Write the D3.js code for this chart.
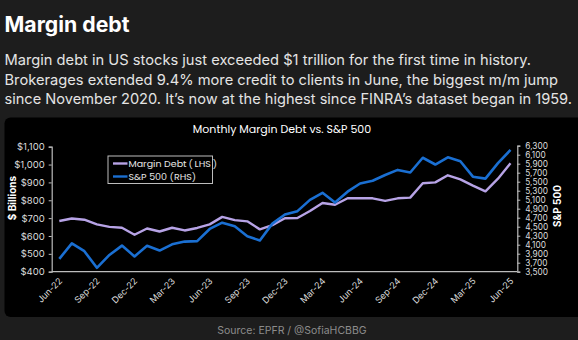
<!DOCTYPE html>
<html>
<head>
<meta charset="utf-8">
<script src="https://cdn.jsdelivr.net/npm/d3@7/dist/d3.min.js"></script>
<style>
  html, body { margin: 0; padding: 0; background: #1d1d1d; }
  svg { display: block; }
</style>
</head>
<body>
<div id="chart"></div>
<script>
// monthly observations, Jun-22 .. Jun-25
const months = [
  "Jun-22", "Jul-22", "Aug-22", "Sep-22", "Oct-22", "Nov-22", "Dec-22",
  "Jan-23", "Feb-23", "Mar-23", "Apr-23", "May-23", "Jun-23", "Jul-23",
  "Aug-23", "Sep-23", "Oct-23", "Nov-23", "Dec-23", "Jan-24", "Feb-24",
  "Mar-24", "Apr-24", "May-24", "Jun-24", "Jul-24", "Aug-24", "Sep-24",
  "Oct-24", "Nov-24", "Dec-24", "Jan-25", "Feb-25", "Mar-25", "Apr-25",
  "May-25", "Jun-25"
];

// margin debt, $ billions (left axis)
const marginDebt = [
  684, 698, 691, 665, 651, 646, 607,
  642, 625, 646, 631, 645, 665, 707,
  689, 682, 637, 661, 699, 701, 740,
  785, 775, 811, 811, 811, 797, 811,
  815, 895, 900, 940, 917, 882, 850,
  921, 1008
];

// S&P 500 month-end close (right axis)
const spx = [
  3785, 4130, 3955, 3586, 3872, 4080, 3840,
  4077, 3970, 4109, 4169, 4180, 4450, 4589,
  4508, 4288, 4194, 4568, 4770, 4846, 5096,
  5254, 5036, 5278, 5460, 5522, 5648, 5762,
  5705, 6032, 5882, 6041, 5955, 5612, 5569,
  5912, 6205
];

const leftTicks = [400, 500, 600, 700, 800, 900, 1000, 1100];
const rightTicks = d3.range(3500, 6301, 200);

const bodyLines = [
  "Margin debt in US stocks just exceeded $1 trillion for the first time in history.",
  "Brokerages extended 9.4% more credit to clients in June, the biggest m/m jump",
  "since November 2020. It\u2019s now at the highest since FINRA\u2019s dataset began in 1959."
];

const settings = {
  width: 578,
  height: 340,
  plot: { left: 51.7, right: 517.3, top: 146, bottom: 271.7 },
  x0: 59.3,
  x1: 510.5,
  debt_color: "#b7a3e6",
  spx_color: "#1a6fd2",
  axis_color: "#bcbcbc",
  text_color: "#dcdcdc",
};

const svg = d3.select("#chart").append("svg")
  .attr("width", settings.width)
  .attr("height", settings.height);

svg.append("rect")
  .attr("width", settings.width).attr("height", settings.height)
  .attr("fill", "#1d1d1d");

// headline + blurb
svg.append("text")
  .attr("x", 4.5).attr("y", 32)
  .attr("font-family", "Inter, 'Open Sans', sans-serif")
  .attr("font-weight", 700)
  .attr("font-size", 21)
  .attr("fill", "#ffffff")
  .attr("textLength", 125).attr("lengthAdjust", "spacingAndGlyphs")
  .text("Margin debt");

const bodyEnds = [531, 558, 572];
svg.append("g")
  .selectAll("text")
  .data(bodyLines)
  .enter().append("text")
  .attr("x", 4.5)
  .attr("y", (d, i) => 65 + i * 19.5)
  .attr("font-family", "Inter, 'Open Sans', sans-serif")
  .attr("font-size", 14.5)
  .attr("fill", "#e4e4e4")
  .attr("textLength", (d, i) => bodyEnds[i] - 4.5)
  .attr("lengthAdjust", "spacingAndGlyphs")
  .text(d => d);

// chart panel
svg.append("rect")
  .attr("x", 4.5).attr("y", 117.5)
  .attr("width", 590).attr("height", 199.5)
  .attr("rx", 6)
  .attr("fill", "#000000");

svg.append("text")
  .attr("x", 282).attr("y", 133)
  .attr("text-anchor", "middle")
  .attr("font-family", "Poppins, Inter, sans-serif")
  .attr("font-size", 11)
  .attr("fill", "#ffffff")
  .text("Monthly Margin Debt vs. S&P 500");

const p = settings.plot;
const x = d3.scaleLinear().domain([0, months.length - 1]).range([settings.x0, settings.x1]);
const yL = d3.scaleLinear().domain([400, 1100]).range([p.bottom, 146.7]);
const yR = d3.scaleLinear().domain([3500, 6300]).range([p.bottom, 145.7]);

function style_axis(g) {
  g.select(".domain").attr("stroke", settings.axis_color).attr("stroke-width", 1.2);
  g.selectAll(".tick line").attr("stroke", settings.axis_color);
  g.selectAll(".tick text")
    .attr("fill", settings.text_color)
    .attr("font-family", "Inter, 'Open Sans', sans-serif")
    .attr("font-size", 9.5);
}

svg.append("g")
  .attr("transform", "translate(" + p.left + ",0)")
  .call(d3.axisLeft(yL).tickValues(leftTicks).tickSize(3).tickPadding(4)
    .tickFormat(d => "$" + d3.format(",")(d)))
  .call(style_axis);

const rightAxis = svg.append("g")
  .attr("transform", "translate(" + p.right + ",0)")
  .call(d3.axisRight(yR).tickValues(rightTicks).tickSize(3).tickPadding(5)
    .tickFormat(d3.format(",")))
  .call(style_axis);
// fifteen labels in ~126px: keep them small so they don't collide
rightAxis.selectAll(".tick text").attr("font-size", 8.3);

const xAxis = svg.append("g")
  .attr("transform", "translate(0," + p.bottom + ")")
  .call(d3.axisBottom(x)
    .tickValues(d3.range(0, months.length, 3))
    .tickSize(0)
    .tickFormat(i => months[i]))
  .call(style_axis);
xAxis.select(".domain").attr("d", "M" + p.left + ",0H" + p.right);
xAxis.selectAll(".tick text")
  .attr("text-anchor", "end")
  .attr("dy", 0)
  .attr("transform", "translate(3,10) rotate(-45)")
  .attr("y", 0)
  .attr("font-size", 9);

svg.append("text")
  .attr("transform", "translate(16,198) rotate(-90)")
  .attr("text-anchor", "middle")
  .attr("font-family", "Inter, 'Open Sans', sans-serif")
  .attr("font-weight", 700)
  .attr("font-size", 10)
  .attr("fill", "#ffffff")
  .text("$ Billions");

svg.append("text")
  .attr("transform", "translate(561,206) rotate(-90)")
  .attr("text-anchor", "middle")
  .attr("font-family", "Inter, 'Open Sans', sans-serif")
  .attr("font-weight", 700)
  .attr("font-size", 10)
  .attr("fill", "#ffffff")
  .text("S&P 500");

// series
const debtLine = d3.line().x((d, i) => x(i)).y(d => yL(d));
const spxLine = d3.line().x((d, i) => x(i)).y(d => yR(d));

svg.append("path")
  .datum(marginDebt)
  .attr("fill", "none")
  .attr("stroke", settings.debt_color)
  .attr("stroke-width", 2.4)
  .attr("stroke-linejoin", "round")
  .attr("d", debtLine);

svg.append("path")
  .datum(spx)
  .attr("fill", "none")
  .attr("stroke", settings.spx_color)
  .attr("stroke-width", 2.6)
  .attr("stroke-linejoin", "round")
  .attr("d", spxLine);

// legend
const legend = svg.append("g").attr("transform", "translate(108,156)");
legend.append("rect")
  .attr("width", 104.5).attr("height", 27.5)
  .attr("fill", "#000000")
  .attr("stroke", "#bdbdbd").attr("stroke-width", 1);

const legendItems = [
  { label: "Margin Debt\u2009(\u2009LHS\u2009)", color: settings.debt_color },
  { label: "S&P 500 (RHS)", color: settings.spx_color },
];
const rows = legend.selectAll("g.row")
  .data(legendItems)
  .enter().append("g")
  .attr("class", "row")
  .attr("transform", (d, i) => "translate(0," + (7.5 + i * 13) + ")");
rows.append("line")
  .attr("x1", 5).attr("x2", 19.5)
  .attr("stroke", d => d.color)
  .attr("stroke-width", 2.4);
rows.append("text")
  .attr("x", 20.5).attr("y", 3.5)
  .attr("font-family", "Poppins, Inter, sans-serif")
  .attr("font-size", 9.5)
  .attr("fill", "#e6e6e6")
  .text(d => d.label);

svg.append("text")
  .attr("x", 292).attr("y", 334)
  .attr("text-anchor", "middle")
  .attr("font-family", "Inter, 'Open Sans', sans-serif")
  .attr("font-size", 10.5)
  .attr("fill", "#8c8c8c")
  .text("Source: EPFR / @SofiaHCBBG");
</script>
</body>
</html>
